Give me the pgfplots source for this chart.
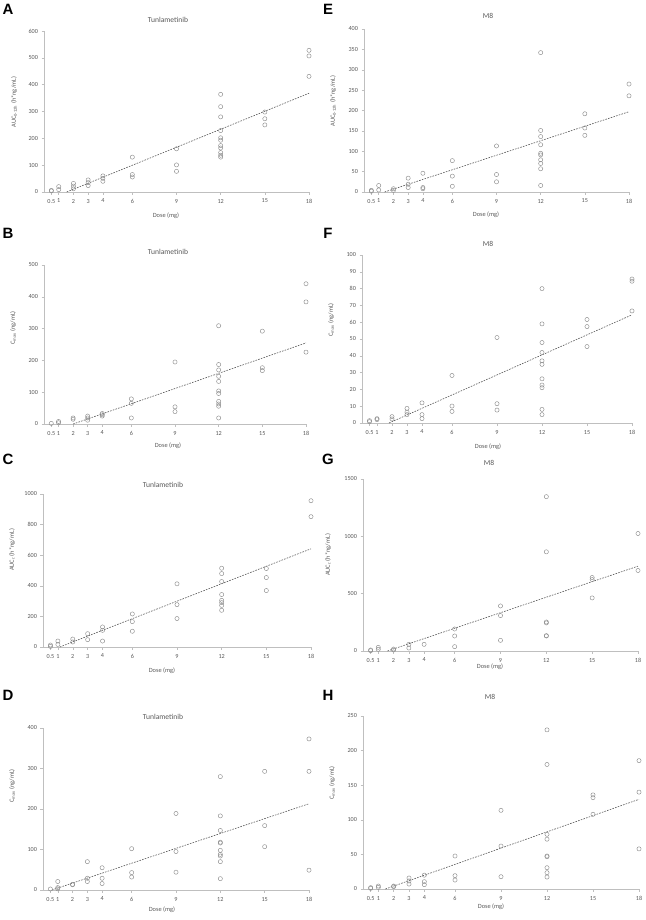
\documentclass[border=0pt]{standalone}
\usepackage{pgfplots}
\pgfplotsset{compat=1.18}
\usepackage{fontspec}
\setmainfont{Carlito}
\newfontfamily\letterfont{Liberation Sans}
\definecolor{axgray}{HTML}{BFBFBF}
\definecolor{txtgray}{HTML}{595959}
\definecolor{ptgray}{HTML}{8C8C8C}
\definecolor{trendgray}{HTML}{555555}
\pgfplotsset{
  panel/.style={
    scale only axis, anchor=south west,
    xmin=0, xmax=18, ymin=0,
    axis x line*=bottom, axis y line*=left,
    axis line style={draw=axgray, line width=0.6pt, -},
    xtick={0.5,1,2,3,4,6,9,12,15,18},
    xticklabels={0.5,1,2,3,4,6,9,12,15,18},
    tick style={draw=axgray, line width=0.5pt},
    tick align=outside, major tick length=2.5bp,
    tick label style={font=\fontsize{6.2}{7}\selectfont, text=txtgray},
    xticklabel style={yshift=-1bp},
    /pgf/number format/assume math mode=true,
    /pgf/number format/1000 sep={},
    clip=false,
  },
  pts/.style={only marks, mark=o, mark size=2.1bp, mark options={draw=ptgray, line width=0.45pt}},
  trend/.style={no marks, draw=trendgray, line width=0.6pt, dash pattern=on 1.6bp off 1.2bp},
}
\newcommand{\ttl}[1]{{\fontsize{7.6}{9}\selectfont\color{txtgray}#1}}
\newcommand{\lbl}[1]{{\fontsize{6.4}{8}\selectfont\color{txtgray}#1}}
\newcommand{\pl}[1]{{\letterfont\bfseries\fontsize{15}{16}\selectfont #1}}
\begin{document}
\begin{tikzpicture}
\path[use as bounding box] (0,0) rectangle (646bp,-920bp);

% ---------- A ----------
\begin{axis}[panel, at={(44bp,-192bp)}, width=265bp, height=161bp, ymax=600, ytick={0,100,...,600}]
\addplot[pts] coordinates {(0.5,4)(0.5,6)(1,20)(1,9)(2,32)(2,22)(2,12)(3,45)(3,35)(3,24)(4,60)(4,51)(4,40)(6,130)(6,65)(6,56)(9,161)(9,101)(9,77)(12,364)(12,318)(12,280)(12,229)(12,202)(12,193)(12,173)(12,164)(12,147)(12,137)(12,130)(15,298)(15,273)(15,250)(18,528)(18,507)(18,431)};
\addplot[trend] coordinates {(1.54,0)(18,368)};
\end{axis}
% ---------- E ----------
\begin{axis}[panel, at={(364bp,-192bp)}, width=265bp, height=163bp, ymax=400, ytick={0,50,...,400}]
\addplot[pts] coordinates {(0.5,4)(0.5,2)(1,16)(1,5)(2,8)(2,4)(3,34)(3,19)(3,11)(4,46)(4,11)(4,8)(6,77)(6,39)(6,14)(9,113)(9,43)(9,25)(12,342)(12,151)(12,136)(12,116)(12,95)(12,91)(12,79)(12,70)(12,57)(12,16)(15,192)(15,157)(15,139)(18,265)(18,236)};
\addplot[trend] coordinates {(1.4,0)(18,197)};
\end{axis}
% ---------- B ----------
\begin{axis}[panel, at={(44bp,-424bp)}, width=262bp, height=159bp, ymax=500, ytick={0,100,...,500}]
\addplot[pts] coordinates {(0.5,2)(1,8)(1,4)(2,19)(2,15)(3,25)(3,19)(3,12)(4,33)(4,29)(4,25)(6,79)(6,65)(6,19)(9,195)(9,54)(9,39)(12,309)(12,187)(12,170)(12,150)(12,134)(12,104)(12,96)(12,71)(12,63)(12,56)(12,19)(15,292)(15,177)(15,168)(18,441)(18,384)(18,226)};
\addplot[trend] coordinates {(2,0)(18,255)};
\end{axis}
% ---------- F ----------
\begin{axis}[panel, at={(362bp,-423bp)}, width=270bp, height=168bp, ymax=100, ytick={0,10,...,100}]
\addplot[pts] coordinates {(0.5,1.4)(0.5,0.8)(1,2.6)(1,2)(2,3.8)(2,2.4)(3,8.7)(3,6.5)(3,5)(4,12)(4,5)(4,2.6)(6,28.3)(6,10.1)(6,6.9)(9,50.9)(9,11.5)(9,7.7)(12,80)(12,59)(12,47.9)(12,42)(12,37)(12,34.9)(12,26.3)(12,22.6)(12,21)(12,8.1)(12,5)(15,61.6)(15,57.4)(15,45.5)(18,85.7)(18,84.4)(18,66.7)};
\addplot[trend] coordinates {(1.8,0)(18,64.4)};
\end{axis}
% ---------- C ----------
\begin{axis}[panel, at={(43bp,-647bp)}, width=268bp, height=153bp, ymax=1000, ytick={0,200,...,1000}]
\addplot[pts] coordinates {(0.5,13)(0.5,4)(1,39)(1,17)(2,52)(2,33)(3,87)(3,48)(4,131)(4,109)(4,39)(6,216)(6,166)(6,103)(9,413)(9,277)(9,186)(12,515)(12,480)(12,428)(12,343)(12,305)(12,290)(12,272)(12,240)(15,513)(15,454)(15,369)(18,956)(18,852)};
\addplot[trend] coordinates {(1.13,0)(18,642)};
\end{axis}
% ---------- G ----------
\begin{axis}[panel, at={(363bp,-651bp)}, width=275bp, height=172bp, ymax=1500, ytick={0,500,...,1500}]
\addplot[pts] coordinates {(0.5,9)(0.5,3)(1,32)(1,15)(2,17)(2,9)(3,58)(3,26)(4,58)(6,192)(6,131)(6,38)(9,393)(9,309)(9,93)(12,1346)(12,865)(12,253)(12,245)(12,134)(12,131)(15,641)(15,623)(15,463)(18,1025)(18,702)};
\addplot[trend] coordinates {(1.6,0)(18,740)};
\end{axis}
% ---------- D ----------
\begin{axis}[panel, at={(43bp,-890bp)}, width=266bp, height=162bp, ymax=400, ytick={0,100,...,400}]
\addplot[pts] coordinates {(0.5,2.5)(1,21)(1,6)(1,3)(2,14)(2,13)(3,70)(3,29)(3,21)(4,55)(4,29)(4,16)(6,102)(6,43)(6,32)(9,189)(9,95)(9,44)(12,280)(12,183)(12,147)(12,118)(12,116)(12,98)(12,88)(12,84)(12,70)(12,28)(15,293)(15,159)(15,107)(18,373)(18,293)(18,49)};
\addplot[trend] coordinates {(0.6,0)(18,213)};
\end{axis}
% ---------- H ----------
\begin{axis}[panel, at={(363bp,-889bp)}, width=276bp, height=173bp, ymax=250, ytick={0,50,...,250}]
\addplot[pts] coordinates {(0.5,2)(0.5,1)(1,4.3)(1,2.4)(2,4.3)(2,3.4)(3,15.9)(3,11.6)(3,7.2)(4,20)(4,10.6)(4,6.3)(6,47.7)(6,19.3)(6,13)(9,113.7)(9,62.1)(9,17.8)(12,230)(12,180)(12,79)(12,72)(12,47.7)(12,46.7)(12,30.8)(12,23.6)(12,17.3)(15,136)(15,132)(15,108)(18,185.5)(18,140)(18,58)};
\addplot[trend] coordinates {(1.46,0)(18,129.6)};
\end{axis}

% panel letters
\node at (8bp,-9bp) {\pl{A}};
\node at (328bp,-9bp) {\pl{E}};
\node at (8bp,-233bp) {\pl{B}};
\node at (328bp,-233bp) {\pl{F}};
\node at (8bp,-459bp) {\pl{C}};
\node at (328bp,-459bp) {\pl{G}};
\node at (8bp,-695bp) {\pl{D}};
\node at (328bp,-695bp) {\pl{H}};

% titles
\node at (168bp,-20bp) {\ttl{Tunlametinib}};
\node at (488bp,-16bp) {\ttl{M8}};
\node at (168bp,-252bp) {\ttl{Tunlametinib}};
\node at (488bp,-244bp) {\ttl{M8}};
\node at (163bp,-485bp) {\ttl{Tunlametinib}};
\node at (489bp,-463bp) {\ttl{M8}};
\node at (163bp,-717bp) {\ttl{Tunlametinib}};
\node at (490bp,-697bp) {\ttl{M8}};

% x labels
\node at (166bp,-216bp) {\lbl{Dose (mg)}};
\node at (486bp,-215bp) {\lbl{Dose (mg)}};
\node at (168bp,-446bp) {\lbl{Dose (mg)}};
\node at (488bp,-447bp) {\lbl{Dose (mg)}};
\node at (162bp,-671bp) {\lbl{Dose (mg)}};
\node at (490bp,-667bp) {\lbl{Dose (mg)}};
\node at (162bp,-910bp) {\lbl{Dose (mg)}};
\node at (491bp,-907bp) {\lbl{Dose (mg)}};

% y labels
\node[rotate=90] at (14bp,-102bp) {\lbl{AUC\textsubscript{0-12h} (h*ng/mL)}};
\node[rotate=90] at (333bp,-101bp) {\lbl{AUC\textsubscript{0-12h} (h*ng/mL)}};
\node[rotate=90] at (13bp,-328bp) {\lbl{C\textsubscript{max} (ng/mL)}};
\node[rotate=90] at (331bp,-320bp) {\lbl{C\textsubscript{max} (ng/mL)}};
\node[rotate=90] at (12bp,-550bp) {\lbl{AUC\textsubscript{τ} (h*ng/mL)}};
\node[rotate=90] at (328bp,-555bp) {\lbl{AUC\textsubscript{τ} (h*ng/mL)}};
\node[rotate=90] at (12bp,-786bp) {\lbl{C\textsubscript{max} (ng/mL)}};
\node[rotate=90] at (332bp,-783bp) {\lbl{C\textsubscript{max} (ng/mL)}};
\end{tikzpicture}
\end{document}
